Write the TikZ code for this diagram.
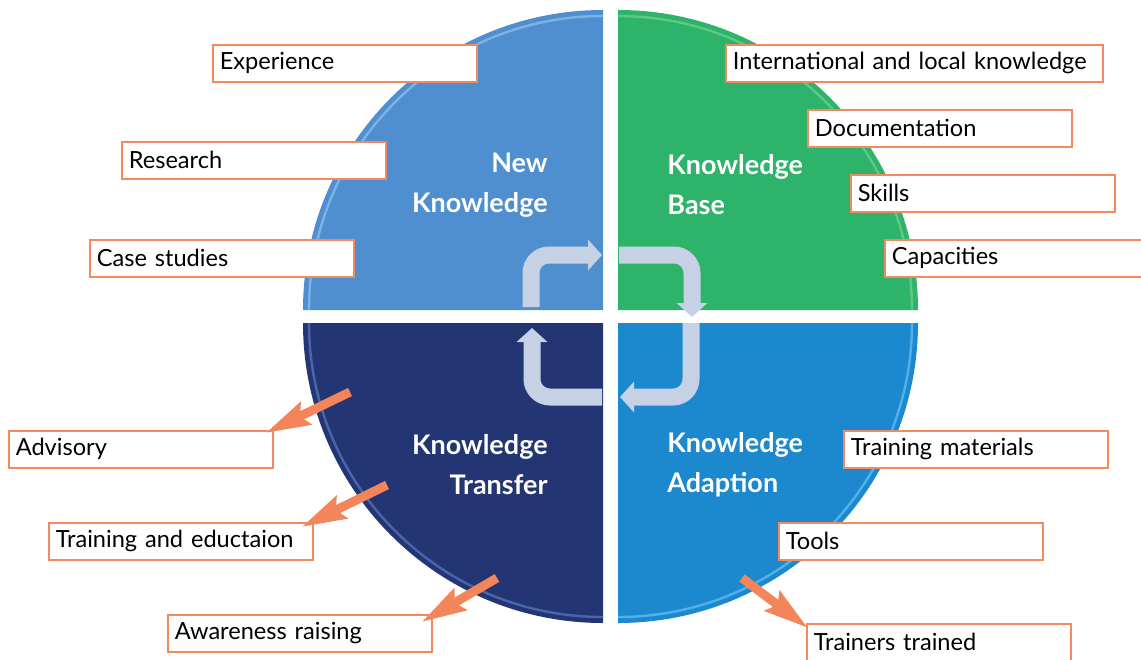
\documentclass[tikz,border=0pt]{standalone}
\usepackage{fontspec}
\setmainfont{Lato}
\usetikzlibrary{arrows.meta}

\definecolor{newblue}{HTML}{4F8FD0}
\definecolor{newrim}{HTML}{7FB2E4}
\definecolor{basegreen}{HTML}{2DB36A}
\definecolor{baserim}{HTML}{5FC884}
\definecolor{transnavy}{HTML}{233573}
\definecolor{transrim}{HTML}{4A66AA}
\definecolor{adaptblue}{HTML}{1C89CE}
\definecolor{adaptrim}{HTML}{52B0EA}
\definecolor{loopgrey}{HTML}{C6D1E6}
\definecolor{ptrorange}{HTML}{F4845A}
\definecolor{boxorange}{HTML}{F28A60}

\begin{document}
\begin{tikzpicture}[x=0.5pt, y=-0.5pt]

\tikzstyle{box}=[draw=boxorange, line width=0.8pt, fill=white, anchor=north west,
  minimum height=18.5pt, text width=125pt, inner xsep=3.5pt, inner ysep=0pt,
  align=left, font=\fontsize{11.8}{13}\selectfont]
\tikzstyle{widebox}=[box, text width=181.5pt]
\tikzstyle{quad}=[text=white, inner sep=0pt, font=\fontsize{13.5}{20}\selectfont\bfseries]
\tikzstyle{rim}=[line width=1.2pt]
\tikzstyle{loop}=[draw=loopgrey, line width=8.5pt, rounded corners=9pt,
  -{Triangle[width=15pt, length=7pt]}]
\tikzstyle{ptr}=[draw=ptrorange, line width=4.5pt,
  -{Stealth[width=12pt, length=22pt, inset=3pt]}]

\useasboundingbox (0,0) rectangle (1141,659);

% quadrants
\fill [newblue]   (603,310) -- (303,310) arc [start angle=180, end angle=270, radius=300] -- cycle;
\fill [basegreen] (618,310) -- (618,10)  arc [start angle=270, end angle=360, radius=300] -- cycle;
\fill [adaptblue] (618,323) -- (918,323) arc [start angle=0,   end angle=90,  radius=300] -- cycle;
\fill [transnavy] (603,323) -- (603,623) arc [start angle=90,  end angle=180, radius=300] -- cycle;
\draw [rim, newrim]   (309,310) arc [start angle=180, end angle=270, radius=294];
\draw [rim, baserim]  (618,16)  arc [start angle=270, end angle=360, radius=294];
\draw [rim, adaptrim] (912,323) arc [start angle=0,   end angle=90,  radius=294];
\draw [rim, transrim] (603,617) arc [start angle=90,  end angle=180, radius=294];

\node (newk)   [quad, anchor=east, align=right] at (548,185) {New\\Knowledge};
\node (basek)  [quad, anchor=west, align=left]  at (667,185) {Knowledge\\Base};
\node (transk) [quad, anchor=east, align=right] at (548,465) {Knowledge\\Transfer};
\node (adaptk) [quad, anchor=west, align=left]  at (667,465) {Knowledge\\Adaption};

% cycle arrows
\coordinate (c1) at (531,307);
\coordinate (c2) at (602,255);
\coordinate (c3) at (619,255);
\coordinate (c4) at (692,317);
\coordinate (c5) at (691,323);
\coordinate (c6) at (620,397);
\coordinate (c7) at (602,397);
\coordinate (c8) at (532,328);
\path [loop] (c1) |- (c2);
\path [loop] (c3) -| (c4);
\path [loop] (c5) |- (c6);
\path [loop] (c7) -| (c8);

% labels
\node (exper)   [box]     at (212,44)  {Experience};
\node (resrch)  [box]     at (121,141) {Research};
\node (cases)   [box]     at (89,239)  {Case studies};
\node (intl)    [widebox] at (725,44)  {International and local knowledge};
\node (docu)    [box]     at (807,109) {Documentation};
\node (skills)  [box]     at (850,174) {Skills};
\node (capac)   [box]     at (884,239) {Capacities};
\node (advis)   [box]     at (8,430)   {Advisory};
\node (traied)  [box]     at (48,522)  {Training and eductaion};
\node (aware)   [box]     at (167,614) {Awareness raising};
\node (trmat)   [box]     at (843,430) {Training materials};
\node (tools)   [box]     at (778,522) {Tools};
\node (trtrain) [box]     at (806,623) {Trainers trained};

% pointers
\coordinate (p1) at (350,392);
\coordinate (p2) at (387,485);
\coordinate (p3) at (497,578);
\coordinate (p4) at (742,578);
\path [ptr] (p1) -- ([shift={(-8,3)}]advis.north east);
\path [ptr] (p2) -- ([shift={(-12,5)}]traied.north east);
\path [ptr] (p3) -- ([shift={(-11,8)}]aware.north east);
\path [ptr] (p4) -- ([shift={(2,5)}]trtrain.north west);
\end{tikzpicture}
\end{document}
